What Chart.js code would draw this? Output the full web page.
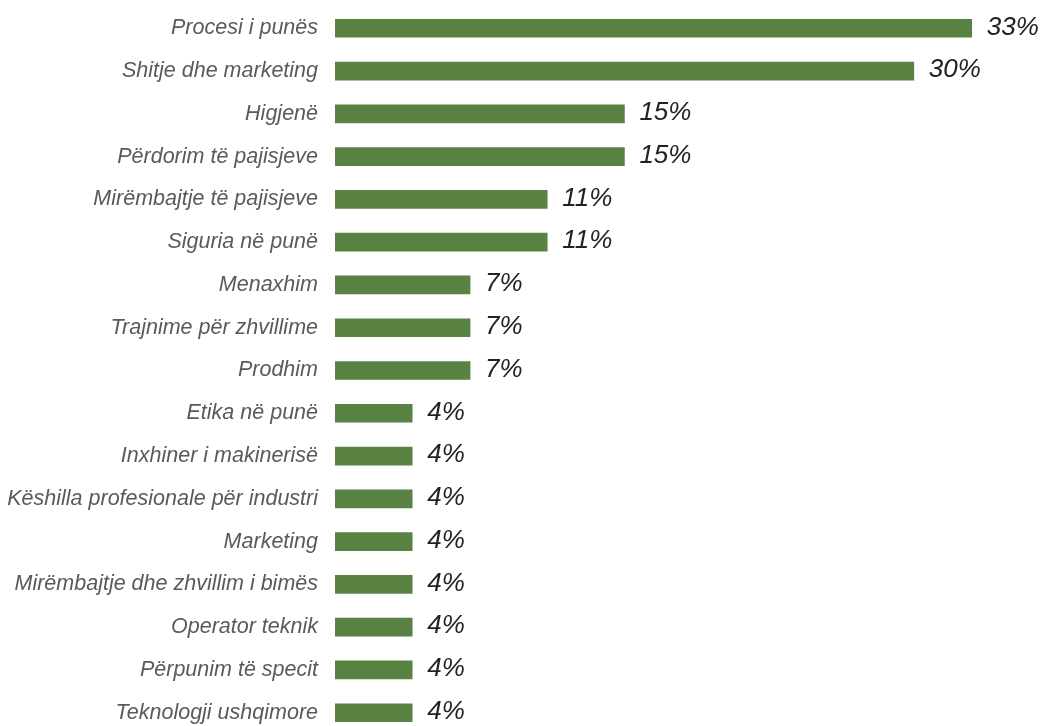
<!DOCTYPE html>
<html>
<head>
<meta charset="utf-8">
<script src="https://cdn.jsdelivr.net/npm/chart.js@4.4.1/dist/chart.umd.min.js"></script>
<style>
  html, body { margin: 0; padding: 0; background: #fff; overflow: hidden; }
  #wrap { width: 1042px; height: 787px; margin-top: -23px; position: relative; }
</style>
</head>
<body>
<div id="wrap"><canvas id="barChart"></canvas></div>
<script>
const categories = [
    'Procesi i punës',
    'Shitje dhe marketing',
    'Higjenë',
    'Përdorim të pajisjeve',
    'Mirëmbajtje të pajisjeve',
    'Siguria në punë',
    'Menaxhim',
    'Trajnime për zhvillime',
    'Prodhim',
    'Etika në punë',
    'Inxhiner i makinerisë',
    'Këshilla profesionale për industri',
    'Marketing',
    'Mirëmbajtje dhe zhvillim i bimës',
    'Operator teknik',
    'Përpunim të specit',
    'Teknologji ushqimore'
];
const shares = [33, 30, 15, 15, 11, 11, 7, 7, 7, 4, 4, 4, 4, 4, 4, 4, 4];

const barColor = '#5a8243';

// percent labels to the right of each bar
const valueLabels = {
    id: 'valueLabels',
    afterDatasetsDraw(chart) {
        const ctx = chart.ctx;
        const meta = chart.getDatasetMeta(0);
        ctx.save();
        ctx.font = 'italic 26px "Liberation Sans", Arial, sans-serif';
        ctx.fillStyle = '#222';
        ctx.textAlign = 'left';
        ctx.textBaseline = 'middle';
        meta.data.forEach((bar, i) => {
            ctx.fillText(shares[i] + '%', bar.x + 15, bar.y - 1);
        });
        ctx.restore();
    }
};

const ctx = document.getElementById('barChart');

new Chart(ctx, {
    type: 'bar',
    data: {
        labels: categories,
        datasets: [{
            data: shares,
            backgroundColor: barColor,
            barThickness: 18
        }]
    },
    options: {
        indexAxis: 'y',
        responsive: true,
        maintainAspectRatio: false,
        animation: false,
        layout: { padding: { top: 0, bottom: 0, right: 51, left: 0 } },
        plugins: {
            legend: { display: false },
            tooltip: { enabled: false }
        },
        scales: {
            x: {
                min: 0,
                max: 34,
                display: false
            },
            y: {
                grid: { display: false, drawTicks: false },
                border: { display: false },
                afterFit(scale) { scale.width = 335; },
                ticks: {
                    padding: 17,
                    color: '#5a5a5a',
                    font: { family: '"Liberation Sans", Arial, sans-serif', size: 21.5, style: 'italic' }
                }
            }
        }
    },
    plugins: [valueLabels]
});
</script>
</body>
</html>
